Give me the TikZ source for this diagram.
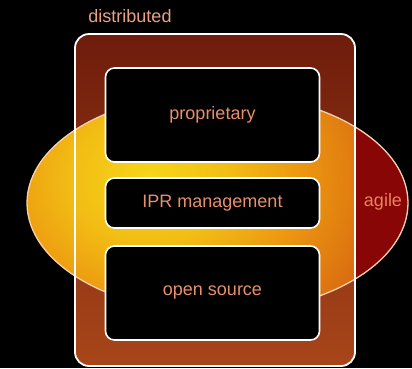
\documentclass[tikz,border=0pt]{standalone}
\usepackage{fontspec}
\setmainfont{Liberation Sans}
\definecolor{gA}{HTML}{F6D61A}
\definecolor{gA2}{HTML}{F2BE14}
\definecolor{gB}{HTML}{EC9610}
\definecolor{gC}{HTML}{D86A10}
\definecolor{gC2}{HTML}{D05012}
\definecolor{gD}{HTML}{B83C10}
\definecolor{rectTop}{HTML}{6E1C0C}
\definecolor{rectBot}{HTML}{A8461A}
\definecolor{agileRed}{HTML}{880606}
\definecolor{txt}{HTML}{E8906C}
\definecolor{ellLine}{HTML}{F6D2B0}
\pgfdeclareradialshading{glow}{\pgfpoint{0bp}{0bp}}{color(0bp)=(gA); color(8bp)=(gA2); color(16bp)=(gB); color(25bp)=(gC); color(36bp)=(gC2); color(50bp)=(gD)}
\tikzset{
  box/.style={draw=white, line width=1.6pt, fill=black, rounded corners=9pt},
  lbl/.style={text=txt, font=\fontsize{18}{20}\selectfont, inner sep=0pt}
}
\begin{document}
\begin{tikzpicture}[x=1pt,y=-1pt]
\fill[black] (0,0) rectangle (412,368);
\useasboundingbox (0,0) rectangle (412,368);
% outer rectangle fill
\shade[top color=rectTop, bottom color=rectBot, rounded corners=14pt] (75,34) rectangle (355,366);
% ellipse glow (left of right rect edge)
\begin{scope}
  \clip (217.5,203) ellipse (190.5pt and 110pt);
  \clip (0,0) rectangle (355,368);
  \shade[shading=glow] (150,178) ellipse (240pt and 200pt);
\end{scope}
% right part of ellipse
\begin{scope}
  \clip (217.5,203) ellipse (190.5pt and 110pt);
  \fill[agileRed] (355,0) rectangle (412,368);
\end{scope}
\draw[ellLine, line width=1.3pt] (217.5,203) ellipse (190.5pt and 110pt);
\draw[white, line width=1.8pt, rounded corners=14pt] (75,34) rectangle (355,366);
% inner boxes
\node[box, minimum width=214pt, minimum height=94pt, inner sep=0pt] (prop) at (212.5,115) {};
\node[box, minimum width=214pt, minimum height=50pt, inner sep=0pt] (ipr) at (212.5,203) {};
\node[box, minimum width=214pt, minimum height=94pt, inner sep=0pt] (os) at (212.5,293) {};
\node[lbl] at (prop.center) {proprietary};
\node[lbl] at (ipr.center) {IPR management};
\node[lbl] at (os.center) {open source};
\node[lbl, text=txt!85!white] (dist) at (130,16) {distributed};
\node[lbl, text=txt!90!red] (agile) at (383,202) {agile};
\end{tikzpicture}
\end{document}
